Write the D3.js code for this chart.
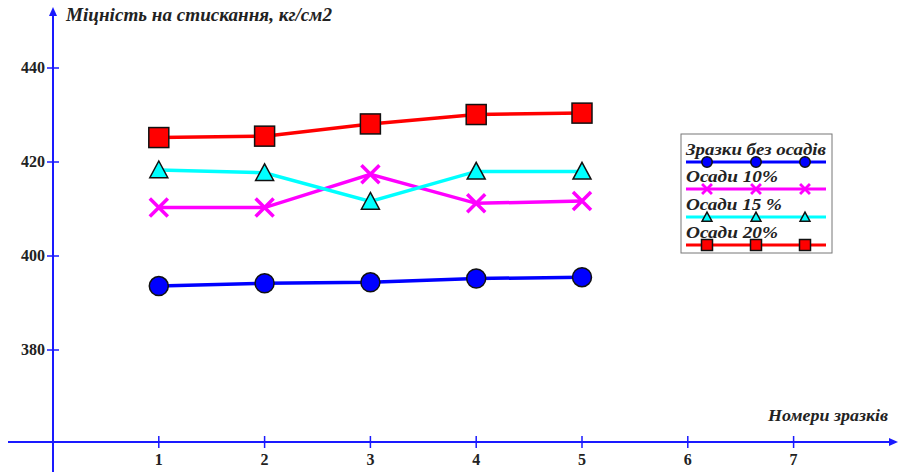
<!DOCTYPE html>
<html><head><meta charset="utf-8">
<script src="https://cdn.jsdelivr.net/npm/d3@7"></script>
<style>body{margin:0;background:#fff}svg{display:block}</style>
</head><body><svg id="c" width="898" height="472"></svg>
<script>
const samples = [1, 2, 3, 4, 5];
const xTicks = [1, 2, 3, 4, 5, 6, 7];
const yTicks = [380, 400, 420, 440];
const seriesNames = ["Зразки без осадів", "Осади 10%", "Осади 15 %", "Осади 20%"];
const noSediment = [393.6, 394.2, 394.4, 395.2, 395.5];
const sediment10 = [410.3, 410.3, 417.4, 411.2, 411.7];
const sediment15 = [418.3, 417.7, 411.6, 418.0, 418.0];
const sediment20 = [425.2, 425.5, 428.1, 430.1, 430.4];
const yTitle = "Міцність на стискання, кг/см2";
const xTitle = "Номери зразків";

const series = [
  {name: seriesNames[0], values: noSediment, color: "#0000ff", marker: "circle"},
  {name: seriesNames[1], values: sediment10, color: "#ff00ff", marker: "cross"},
  {name: seriesNames[2], values: sediment15, color: "#00ffff", marker: "triangle"},
  {name: seriesNames[3], values: sediment20, color: "#ff0000", marker: "square"}
];

const svg = d3.select("#c");
const x = d3.scaleLinear().domain([0, 7]).range([53, 793.6]);
const y = d3.scaleLinear().domain([380, 440]).range([350, 68]);
const axisColor = "#1a1aff";
const font = "'Liberation Serif','Times New Roman',serif";

// axes
const ax = svg.append("g");
ax.append("line").attr("x1", x(0)).attr("x2", x(0)).attr("y1", 472).attr("y2", 14)
  .attr("stroke", axisColor).attr("stroke-width", 2);
ax.append("path").attr("d", `M${x(0)-4},${16} L${x(0)},${7} L${x(0)+4},${16} Z`).attr("fill", axisColor);
ax.append("line").attr("x1", 8).attr("x2", 892).attr("y1", 442).attr("y2", 442)
  .attr("stroke", axisColor).attr("stroke-width", 2);
ax.append("path").attr("d", `M${889},${438} L${898},${442} L${889},${446} Z`).attr("fill", axisColor);

yTicks.forEach(v => {
  ax.append("line").attr("x1", x(0)-6).attr("x2", x(0)+6).attr("y1", y(v)).attr("y2", y(v))
    .attr("stroke", axisColor).attr("stroke-width", 1.5);
  ax.append("text").attr("x", x(0)-8).attr("y", y(v)+5).attr("text-anchor", "end")
    .attr("font-family", font).attr("font-weight", "bold").attr("font-size", 16)
    .attr("fill", "#222").text(v);
});
xTicks.forEach(v => {
  ax.append("line").attr("x1", x(v)).attr("x2", x(v)).attr("y1", 436).attr("y2", 448)
    .attr("stroke", axisColor).attr("stroke-width", 1.5);
  ax.append("text").attr("x", x(v)).attr("y", 465).attr("text-anchor", "middle")
    .attr("font-family", font).attr("font-weight", "bold").attr("font-size", 16)
    .attr("fill", "#222").text(v);
});
svg.append("text").attr("x", 66).attr("y", 21).attr("font-family", font)
  .attr("font-weight", "bold").attr("font-style", "italic").attr("font-size", 18)
  .attr("textLength", 266).attr("lengthAdjust", "spacingAndGlyphs")
  .attr("fill", "#222").text(yTitle);
svg.append("text").attr("x", 768).attr("y", 421).attr("font-family", font)
  .attr("font-weight", "bold").attr("font-style", "italic").attr("font-size", 17.5)
  .attr("textLength", 120).attr("lengthAdjust", "spacingAndGlyphs")
  .attr("fill", "#222").text(xTitle);

function drawMarker(g, type, cx, cy, color, s) {
  if (type === "circle") {
    g.append("circle").attr("cx", cx).attr("cy", cy).attr("r", 9.5*s)
      .attr("fill", color).attr("stroke", "#111").attr("stroke-width", 1.5);
  } else if (type === "square") {
    const h = 10*s;
    g.append("rect").attr("x", cx-h).attr("y", cy-h).attr("width", 2*h).attr("height", 2*h)
      .attr("fill", color).attr("stroke", "#111").attr("stroke-width", 1.5);
  } else if (type === "triangle") {
    const w = 9*s, hh = 9*s;
    g.append("path").attr("d", `M${cx},${cy-hh} L${cx+w},${cy+hh*0.85} L${cx-w},${cy+hh*0.85} Z`)
      .attr("fill", color).attr("stroke", "#111").attr("stroke-width", 1.5);
  } else if (type === "cross") {
    const h = 9*s;
    g.append("path").attr("d", `M${cx-h},${cy-h} L${cx+h},${cy+h} M${cx-h},${cy+h} L${cx+h},${cy-h}`)
      .attr("stroke", color).attr("stroke-width", 3.5*Math.max(s,0.8)).attr("fill", "none");
  }
}

const line = d3.line().x((d, i) => x(samples[i])).y(d => y(d));
series.forEach(s => {
  const g = svg.append("g");
  g.append("path").attr("d", line(s.values)).attr("fill", "none")
    .attr("stroke", s.color).attr("stroke-width", 3.5);
  s.values.forEach((v, i) => drawMarker(g, s.marker, x(samples[i]), y(v), s.color, 1));
});

// legend
const lg = svg.append("g");
lg.append("rect").attr("x", 681).attr("y", 134).attr("width", 151).attr("height", 119)
  .attr("fill", "#fff").attr("stroke", "#777").attr("stroke-width", 1);
const lineYs = [162, 189, 217, 245];
const legendWidths = [140, 92, 96, 92];
series.forEach((s, i) => {
  const ly = lineYs[i];
  lg.append("text").attr("x", 686).attr("y", ly - 7).attr("font-family", font)
    .attr("font-weight", "bold").attr("font-style", "italic").attr("font-size", 17)
    .attr("textLength", legendWidths[i]).attr("lengthAdjust", "spacingAndGlyphs")
    .attr("fill", "#222").text(s.name);
  lg.append("line").attr("x1", 686).attr("x2", 826).attr("y1", ly).attr("y2", ly)
    .attr("stroke", s.color).attr("stroke-width", 3);
  [707, 756, 805].forEach(mx => drawMarker(lg, s.marker, mx, ly, s.color, 0.55));
});
</script></body></html>
